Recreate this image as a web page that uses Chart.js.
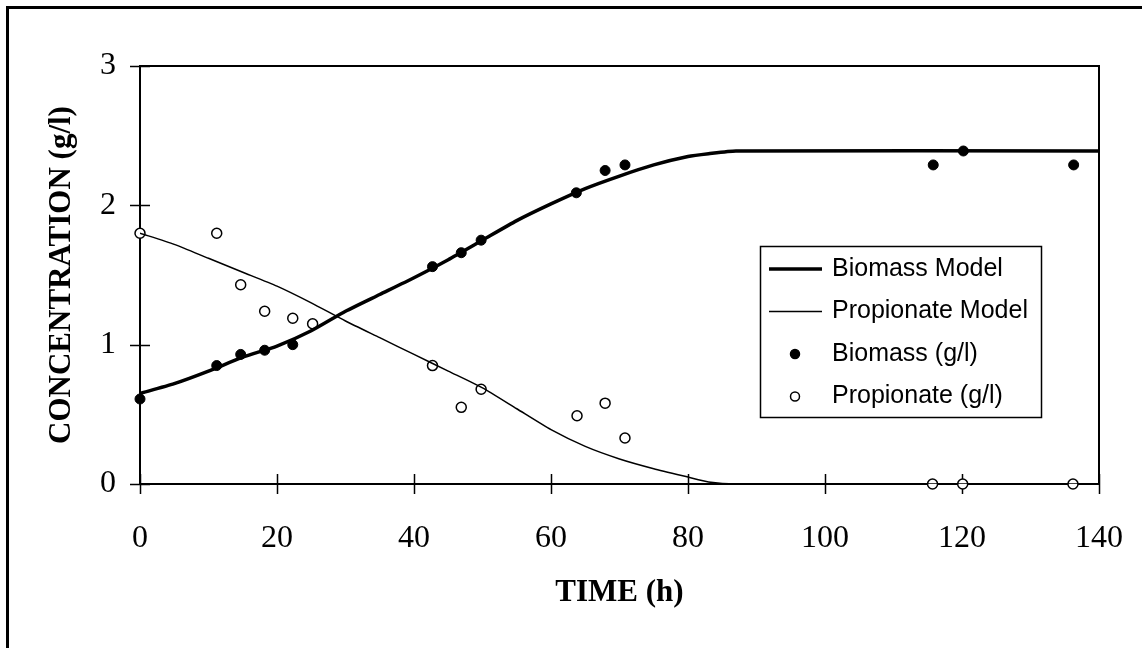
<!DOCTYPE html>
<html>
<head>
<meta charset="utf-8">
<script src="https://cdn.jsdelivr.net/npm/chart.js@4"></script>
<style>
  html, body { margin: 0; padding: 0; background: #fff; }
  #wrap { width: 1142px; height: 648px; position: relative; }
</style>
</head>
<body>
<div id="wrap"><canvas id="growthChart" width="1142" height="648"></canvas></div>
<script>
// measured points
var biomassTime = [0, 11.2, 14.7, 18.2, 22.3, 42.7, 46.9, 49.8, 63.7, 67.9, 70.8, 115.8, 120.2, 136.3];
var biomassConc = [0.61, 0.85, 0.93, 0.96, 1.0, 1.56, 1.66, 1.75, 2.09, 2.25, 2.29, 2.29, 2.39, 2.29];
var propTime = [0, 11.2, 14.7, 18.2, 22.3, 25.2, 42.7, 46.9, 49.8, 63.8, 67.9, 70.8, 115.7, 120.1, 136.2];
var propConc = [1.80, 1.80, 1.43, 1.24, 1.19, 1.15, 0.85, 0.55, 0.68, 0.49, 0.58, 0.33, 0, 0, 0];

// model curves
var modelTime = [0, 5, 10, 15, 20, 25, 30, 35, 40, 45, 50, 55, 60, 65, 70, 75, 80, 83, 87, 140];
var biomassModel = [0.65, 0.72, 0.81, 0.91, 0.99, 1.10, 1.24, 1.36, 1.48, 1.61, 1.75, 1.89, 2.01, 2.12, 2.21, 2.29, 2.35, 2.37, 2.39, 2.39];
var propModel = [1.80, 1.72, 1.62, 1.52, 1.42, 1.30, 1.17, 1.05, 0.93, 0.81, 0.69, 0.54, 0.39, 0.27, 0.18, 0.11, 0.05, 0.015, 0, 0];

var xTicks = [0, 20, 40, 60, 80, 100, 120, 140];
var yTicks = [0, 1, 2, 3];

function pairs(xs, ys) {
    return xs.map(function(x, i) { return {x: x, y: ys[i]}; });
}

// page border, plot frame and the ticks that cross the axes
var framePlugin = {
    id: 'frame',
    beforeDraw: function(chart) {
        var ctx = chart.ctx;
        ctx.save();
        ctx.fillStyle = '#fff';
        ctx.fillRect(0, 0, chart.width, chart.height);
        ctx.strokeStyle = '#000';
        ctx.lineWidth = 3;
        ctx.beginPath();
        ctx.moveTo(7.5, chart.height + 5);
        ctx.lineTo(7.5, 7.5);
        ctx.lineTo(chart.width + 5, 7.5);
        ctx.stroke();
        ctx.restore();
    },
    beforeDatasetsDraw: function(chart) {
        var ctx = chart.ctx, a = chart.chartArea;
        var xs = chart.scales.x, ys = chart.scales.y;
        ctx.save();
        ctx.strokeStyle = '#000';
        ctx.lineWidth = 2;
        ctx.strokeRect(a.left, a.top, a.right - a.left, a.bottom - a.top);
        ctx.lineWidth = 1.5;
        ctx.beginPath();
        yTicks.forEach(function(v) {
            var py = Math.round(ys.getPixelForValue(v)) + 0.5;
            ctx.moveTo(a.left - 10, py);
            ctx.lineTo(a.left + 10, py);
        });
        xTicks.forEach(function(v) {
            var px = Math.round(xs.getPixelForValue(v)) + 0.5;
            ctx.moveTo(px, a.bottom - 10);
            ctx.lineTo(px, a.bottom + 10);
        });
        ctx.stroke();
        ctx.restore();
    }
};

// boxed legend sitting inside the plot
var legendBox = {
    id: 'legendBox',
    afterDraw: function(chart) {
        var ctx = chart.ctx;
        var left = 760, top = 246, w = 281, h = 171;
        ctx.save();
        ctx.fillStyle = '#fff';
        ctx.fillRect(left, top, w, h);
        ctx.strokeStyle = '#000';
        ctx.lineWidth = 1.5;
        ctx.strokeRect(left + 0.5, top + 0.5, w, h);
        ctx.font = '25px "Liberation Sans", Arial, sans-serif';
        ctx.textBaseline = 'middle';
        ctx.fillStyle = '#000';
        chart.data.datasets.forEach(function(ds, i) {
            var cy = top + 23 + i * 42.5;
            if (ds.showLine) {
                ctx.lineWidth = ds.borderWidth;
                ctx.beginPath();
                ctx.moveTo(left + 9, cy);
                ctx.lineTo(left + 62, cy);
                ctx.stroke();
            } else {
                ctx.beginPath();
                ctx.arc(left + 35, cy, 4.5, 0, Math.PI * 2);
                ctx.fillStyle = ds.pointBackgroundColor;
                ctx.fill();
                ctx.lineWidth = 1.5;
                ctx.stroke();
                ctx.fillStyle = '#000';
            }
            ctx.fillText(ds.label, left + 72, cy);
        });
        ctx.restore();
    }
};

var serif = '"Liberation Serif", "Times New Roman", serif';

var ctx = document.getElementById('growthChart').getContext('2d');
var growthChart = new Chart(ctx, {
    type: 'scatter',
    data: {
        datasets: [{
            label: 'Biomass Model',
            data: pairs(modelTime, biomassModel),
            showLine: true,
            borderColor: '#000',
            borderWidth: 3.5,
            pointRadius: 0,
            tension: 0.2
        }, {
            label: 'Propionate Model',
            data: pairs(modelTime, propModel),
            showLine: true,
            borderColor: '#000',
            borderWidth: 1.5,
            pointRadius: 0,
            tension: 0.2
        }, {
            label: 'Biomass (g/l)',
            data: pairs(biomassTime, biomassConc),
            showLine: false,
            clip: false,
            pointRadius: 5,
            pointBackgroundColor: '#000',
            pointBorderColor: '#000',
            pointBorderWidth: 1
        }, {
            label: 'Propionate (g/l)',
            data: pairs(propTime, propConc),
            showLine: false,
            clip: false,
            pointRadius: 5,
            pointBackgroundColor: '#fff',
            pointBorderColor: '#000',
            pointBorderWidth: 1.5
        }]
    },
    options: {
        responsive: false,
        animation: false,
        layout: {
            padding: {left: 30, top: 66, right: 43, bottom: 34}
        },
        scales: {
            x: {
                type: 'linear',
                min: 0,
                max: 140,
                afterBuildTicks: function(s) { s.ticks = xTicks.map(function(v) { return {value: v}; }); },
                afterFit: function(s) { s.height = 130; s.paddingLeft = 0; s.paddingRight = 0; },
                ticks: {
                    padding: 35,
                    color: '#000',
                    maxRotation: 0,
                    font: {size: 32, family: serif}
                },
                grid: {display: false, drawTicks: false},
                border: {display: false},
                title: {
                    display: true,
                    text: 'TIME (h)',
                    color: '#000',
                    font: {size: 31, family: serif, weight: 'bold'},
                    padding: {top: 0, bottom: 2}
                }
            },
            y: {
                type: 'linear',
                min: 0,
                max: 3,
                afterBuildTicks: function(s) { s.ticks = yTicks.map(function(v) { return {value: v}; }); },
                afterFit: function(s) { s.width = 110; },
                ticks: {
                    padding: 24,
                    color: '#000',
                    font: {size: 32, family: serif}
                },
                grid: {display: false, drawTicks: false},
                border: {display: false},
                title: {
                    display: true,
                    text: 'CONCENTRATION (g/l)',
                    color: '#000',
                    font: {size: 31, family: serif, weight: 'bold'},
                    padding: {top: 13, bottom: 0}
                }
            }
        },
        plugins: {
            legend: {display: false},
            tooltip: {enabled: false}
        }
    },
    plugins: [framePlugin, legendBox]
});
</script>
</body>
</html>
